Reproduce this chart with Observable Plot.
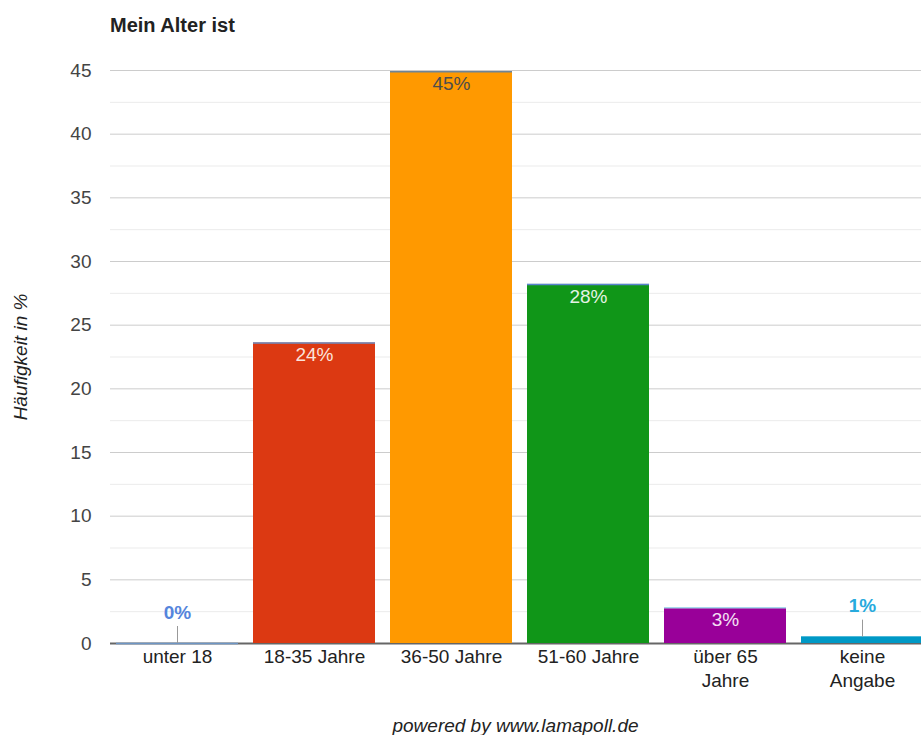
<!DOCTYPE html>
<html lang="de">
<head>
<meta charset="utf-8">
<title>Mein Alter ist</title>
<script src="https://cdn.jsdelivr.net/npm/d3@7"></script>
<script src="https://cdn.jsdelivr.net/npm/@observablehq/plot@0.6"></script>
<style>
  html, body { margin: 0; padding: 0; background: #fff; width: 921px; height: 735px; overflow: hidden; }
  body { position: relative; font-family: Arial, "Liberation Sans", sans-serif; }
  #title { position: absolute; left: 110px; top: 0; height: 48px; line-height: 50px;
           font-size: 20px; font-weight: bold; color: #222; white-space: nowrap; }
  #chart { position: absolute; left: 0; top: 48px; width: 930px; }
  #chart svg { max-width: none !important; display: block; }
  #footer { position: absolute; left: 110px; width: 811px; top: 695px; padding-top: 21px;
            line-height: 19px; font-size: 19px; font-style: italic; color: #222; text-align: center; }
</style>
</head>
<body>
<div id="title">Mein Alter ist</div>
<div id="chart"></div>
<div id="footer">powered by www.lamapoll.de</div>
<script>
// Age groups and their share of respondents (percent)
const categories = ["unter 18", "18-35 Jahre", "36-50 Jahre", "51-60 Jahre", "über 65 Jahre", "keine Angabe"];
const tickLabels = ["unter 18", "18-35 Jahre", "36-50 Jahre", "51-60 Jahre", "über 65\nJahre", "keine\nAngabe"];
const shares = [0, 23.6, 44.9, 28.2, 2.8, 0.5];
const yTicks = [0, 5, 10, 15, 20, 25, 30, 35, 40, 45];
const yMinorTicks = [2.5, 7.5, 12.5, 17.5, 22.5, 27.5, 32.5, 37.5, 42.5];

// Colours per age group: bar fill, thin top edge, value label
const barColors = ["#3366cc", "#dc3912", "#ff9900", "#109618", "#990099", "#0099c6"];
const edgeColors = ["#6d95c4", "#6b8cc2", "#6f8598", "#5b82cf", "#a6d9ec", "#0099c6"];
const labelColors = ["#5585dc", "#fbe3dc", "#4d4d4d", "#e4f3e4", "#f4e0f4", "#27aadd"];

const rows = categories.map((cat, i) => ({
  cat,
  value: shares[i],
  fill: barColors[i],
  edge: edgeColors[i],
  labelFill: labelColors[i]
}));

// Small bars get their label above, with a short leader line
const isOutside = d => d.value < 2;
const inside = rows.filter(d => !isOutside(d));
const outside = rows.filter(isOutside);
const pct = d => `${Math.round(d.value)}%`;

const chart = Plot.plot({
  width: 930,
  height: 647,
  marginTop: 22,
  marginBottom: 52,
  marginLeft: 110,
  marginRight: 0,
  style: {
    fontFamily: 'Arial, "Liberation Sans", sans-serif',
    fontSize: "19px",
    background: "#fff",
    overflow: "visible",
    maxWidth: "none"
  },
  x: { domain: categories, paddingInner: 0.106, paddingOuter: 0.04, axis: null },
  y: { domain: [0, 45], axis: null },
  color: { type: "identity" },
  marks: [
    Plot.gridY({ ticks: yMinorTicks, stroke: "#ebebeb", strokeOpacity: 1 }),
    Plot.gridY({ ticks: yTicks, stroke: "#cccccc", strokeOpacity: 1 }),
    Plot.axisY({ ticks: yTicks, tickSize: 0, tickPadding: 19, fill: "#444", label: null }),
    Plot.axisX({
      tickSize: 0,
      tickPadding: 3,
      fill: "#222",
      label: null,
      lineHeight: 1.25,
      tickFormat: c => tickLabels[categories.indexOf(c)]
    }),
    Plot.text(["Häufigkeit in %"], {
      frameAnchor: "left",
      textAnchor: "middle",
      dx: -90,
      rotate: -90,
      fontStyle: "italic",
      fill: "#222"
    }),
    Plot.ruleY([0], { stroke: "#666", strokeWidth: 2 }),
    Plot.barY(rows, { x: "cat", y: "value", fill: "fill" }),
    Plot.tickY(rows, { x: "cat", y: "value", stroke: "edge", strokeWidth: 1.5 }),
    Plot.ruleX(outside, { x: "cat", y1: "value", y2: "value", insetTop: 0, insetBottom: 17, stroke: "#999" }),
    Plot.text(inside, { x: "cat", y: "value", dy: 12, text: pct, fill: "labelFill" }),
    Plot.text(outside, { x: "cat", y: "value", dy: -31, text: pct, fill: "labelFill", fontWeight: "bold" })
  ]
});

document.getElementById("chart").append(chart);
</script>
</body>
</html>
